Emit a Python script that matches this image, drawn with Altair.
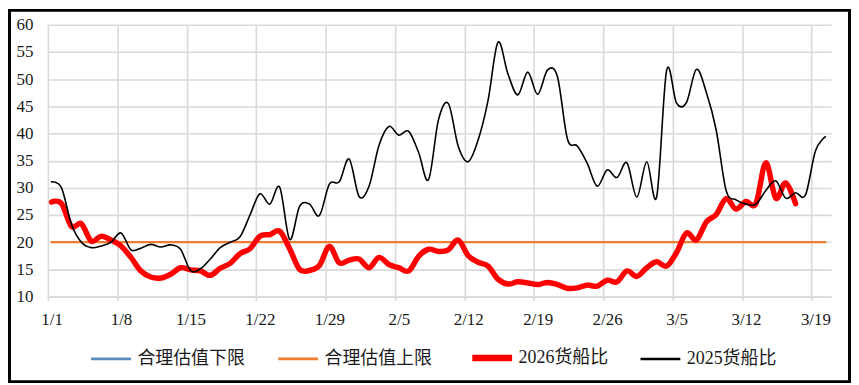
import json
import altair as alt
import pandas as pd

# ---------------- data ----------------
x_labels = ["1/1", "1/8", "1/15", "1/22", "1/29", "2/5", "2/12", "2/19", "2/26", "3/5", "3/12", "3/19"]
series_names = ["合理估值下限", "合理估值上限", "2026货船比", "2025货船比"]
series_colors = ["#5B8DB8", "#ED7D31", "#FF0000", "#000000"]
series_widths = [2.2, 2.2, 5.5, 1.6]
legend_widths = [2.8, 2.8, 6.5, 2.6]

# upper bound of fair valuation (flat line from 1/1 to 3/20)
upper_days = [0, 78]
upper_values = [20, 20]

# 2026 cargo/ship ratio, daily from 1/1
ratio_2026 = [27.4, 27.1, 22.9, 23.4, 20.2, 21.1, 20.4, 19.3, 17.2, 14.7,
              13.6, 13.4, 14.1, 15.3, 14.9, 14.7, 13.9, 15.2, 16.1, 17.9,
              18.8, 21.1, 21.4, 22.0, 18.8, 15.0, 14.8, 15.7, 19.2, 16.2,
              16.7, 16.9, 15.3, 17.2, 15.9, 15.3, 14.7, 17.4, 18.7, 18.3,
              18.6, 20.4, 17.5, 16.3, 15.6, 13.2, 12.3, 12.7, 12.5, 12.2,
              12.6, 12.2, 11.5, 11.6, 12.1, 11.9, 13.0, 12.7, 14.7, 13.7,
              15.3, 16.4, 15.6, 18.1, 21.7, 20.4, 23.7, 25.1, 28.0, 26.1,
              27.5, 27.1, 34.6, 28.1, 30.9, 27.1]

# 2025 cargo/ship ratio, daily from 1/1
ratio_2025 = [31.1, 30.0, 23.3, 20.0, 19.0, 19.3, 20.0, 21.7, 18.6, 18.9,
              19.6, 19.1, 19.5, 18.7, 14.8, 15.1, 16.9, 19.0, 20.0, 21.0,
              25.0, 28.9, 27.0, 30.1, 20.5, 26.6, 27.0, 24.9, 30.7, 31.1,
              35.3, 28.4, 30.3, 37.8, 41.3, 39.7, 40.4, 36.5, 31.5, 42.5,
              45.5, 37.6, 34.8, 38.8, 46.1, 56.8, 51.0, 47.1, 51.3, 47.2,
              51.7, 50.4, 39.0, 37.7, 34.5, 30.3, 33.3, 31.9, 34.6, 28.3,
              34.8, 28.4, 51.6, 45.6, 45.7, 51.8, 47.6, 40.6, 29.5, 27.8,
              27.0, 27.0, 29.5, 31.3, 28.1, 29.1, 28.7, 36.8, 39.4]

# ---------------- frames ----------------
df_upper = pd.DataFrame({"day": upper_days, "value": upper_values, "series": series_names[1]})
df_2026 = pd.DataFrame({"day": list(range(len(ratio_2026))), "value": ratio_2026, "series": series_names[2]})
df_2025 = pd.DataFrame({"day": list(range(len(ratio_2025))), "value": ratio_2025, "series": series_names[3]})

SERIF = "Liberation Serif, Times New Roman, DejaVu Serif, Noto Sans CJK SC, serif"
GRID = "#d9d9d9"
W, H = 787, 273
DAY_PX = W / (78.58 + 0.38)

label_expr = json.dumps(x_labels) + "[round(datum.value / 7)]"

x_enc = alt.X(
    "day:Q",
    scale=alt.Scale(domain=[-0.38, 78.58], nice=False, zero=False),
    axis=alt.Axis(
        values=list(range(0, 78, 7)),
        labelExpr=label_expr,
        title=None,
        grid=True,
        gridColor=GRID,
        gridWidth=1.6,
        domainColor=GRID,
        domainWidth=1.6,
        tickColor=GRID,
        tickWidth=1.6,
        tickSize=4,
        tickOffset=-0.38 * DAY_PX,
        labelOffset=0.38 * DAY_PX,
        labelPadding=11,
        labelFlush=False,
        labelOverlap=False,
    ),
)

y_enc = alt.Y(
    "value:Q",
    scale=alt.Scale(domain=[10, 60], nice=False, zero=False),
    axis=alt.Axis(
        values=list(range(10, 61, 5)),
        title=None,
        grid=True,
        gridColor=GRID,
        gridWidth=1.6,
        domain=False,
        ticks=False,
        labelPadding=15,
    ),
)

legend = alt.Legend(
    title=None,
    orient="none",
    legendX=40,
    legendY=311,
    direction="horizontal",
    columns=4,
    symbolType="stroke",
    symbolSize=1600,
    labelOffset=3,
    columnPadding=27,
    labelLimit=400,
)

color_enc = alt.Color(
    "series:N",
    scale=alt.Scale(domain=series_names, range=series_colors),
    legend=legend,
)
legend_width_enc = alt.StrokeWidth(
    "series:N",
    scale=alt.Scale(type="ordinal", domain=series_names, range=legend_widths),
    legend=legend,
)


def line_layer(df, width):
    return alt.Chart(df).mark_line(
        interpolate="cardinal", strokeCap="round", strokeJoin="round", strokeWidth=width
    ).encode(x=x_enc, y=y_enc, color=color_enc)


# empty layer that only carries the legend's symbol widths
legend_carrier = alt.Chart(alt.Data(values=[])).mark_line().encode(
    x=x_enc, y=y_enc, color=color_enc, strokeWidth=legend_width_enc
)

border = alt.Chart(alt.Data(values=[{"a": 1}])).mark_rect(
    filled=False, stroke="#000000", strokeWidth=3
).encode(
    x=alt.value(-38.5), x2=alt.value(805.5), y=alt.value(-14.5), y2=alt.value(358.5)
)

chart = alt.layer(
    border,
    line_layer(df_upper, series_widths[1]),
    line_layer(df_2026, series_widths[2]),
    line_layer(df_2025, series_widths[3]),
    legend_carrier,
).properties(
    width=W,
    height=H,
    autosize=alt.AutoSizeParams(type="none"),
    padding={"left": 40, "top": 16, "right": 20, "bottom": 87},
    background="#ffffff",
).configure(
    font=SERIF,
).configure_axis(
    labelFont=SERIF, labelFontSize=17, labelColor="#1a1a1a"
).configure_legend(
    labelFont=SERIF, labelFontSize=18, labelColor="#1a1a1a"
).configure_view(stroke=None)

chart.save("out.html", embed_options={"renderer": "svg", "actions": False})
